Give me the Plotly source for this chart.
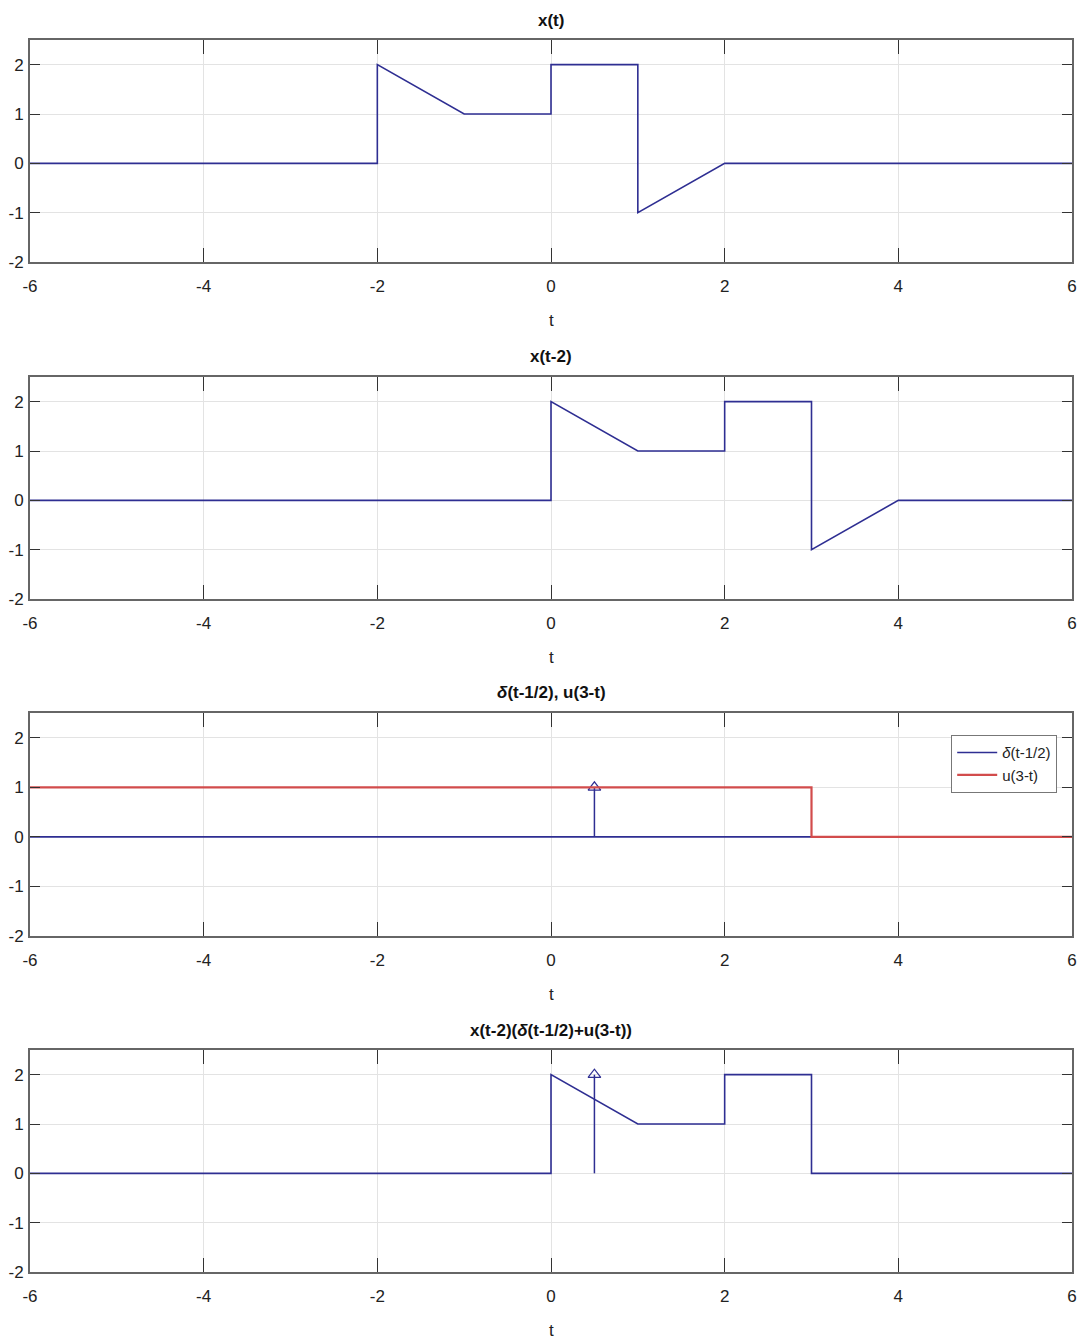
import plotly.graph_objects as go

# ---- data ----
t_x = [-6, -2, -2, -1, 0, 0, 1, 1, 2, 6]
x_vals = [0, 0, 2, 1, 1, 2, 2, -1, 0, 0]

t_xs = [-6, 0, 0, 1, 2, 2, 3, 3, 4, 6]
xs_vals = [0, 0, 2, 1, 1, 2, 2, -1, 0, 0]

t_delta_base = [-6, 6]
delta_base = [0, 0]
delta_pos = 0.5
delta_amp = 1

t_u = [-6, 3, 3, 6]
u_vals = [1, 1, 0, 0]

t_prod = [-6, 0, 0, 1, 2, 2, 3, 3, 6]
prod_vals = [0, 0, 2, 1, 1, 2, 2, 0, 0]
prod_delta_amp = 2

titles = ["x(t)", "x(t-2)", "<i>δ</i>(t-1/2), u(3-t)", "x(t-2)(<i>δ</i>(t-1/2)+u(3-t))"]
x_ticks = [-6, -4, -2, 0, 2, 4, 6]
x_ticktext = ["-6", "-4", "-2", "0", "2", "4", "6"]
y_ticks = [-2, -1, 0, 1, 2]
y_ticktext = ["-2", "-1", "0", "1", "2"]

BLUE = "#2e2e92"
RED = "#d24c4c"
FONT = "Liberation Sans"

W, H = 1084, 1342
ML, MR, MT, MB = 30, 12, 40, 70
tops = [40, 377, 713, 1050]
bots = [262, 599, 936, 1272]
ph = H - MT - MB

def ydom(top, bot):
    return [(H - MB - bot) / ph, (H - MB - top) / ph]

fig = go.Figure()

def add_line(i, xs, ys, color, width, name=None, show=False):
    ax = "" if i == 0 else str(i + 1)
    fig.add_trace(go.Scatter(x=xs, y=ys, mode="lines", line=dict(color=color, width=width),
                             xaxis="x" + ax, yaxis="y" + ax, name=name, showlegend=show,
                             hoverinfo="skip"))

def add_arrow(i, pos, amp):
    ax = "" if i == 0 else str(i + 1)
    fig.add_trace(go.Scatter(x=[pos, pos], y=[0, amp], mode="lines",
                             line=dict(color=BLUE, width=1.5), xaxis="x" + ax, yaxis="y" + ax,
                             showlegend=False, hoverinfo="skip"))
    fig.add_trace(go.Scatter(x=[pos], y=[amp], mode="markers",
                             marker=dict(symbol="triangle-up-open", size=11, color=BLUE,
                                         line=dict(width=1.2, color=BLUE)),
                             xaxis="x" + ax, yaxis="y" + ax, showlegend=False, hoverinfo="skip"))

add_line(0, t_x, x_vals, BLUE, 1.6)
add_line(1, t_xs, xs_vals, BLUE, 1.6)
add_line(2, t_delta_base, delta_base, BLUE, 1.6, name="<i>δ</i>(t-1/2)", show=True)
add_arrow(2, delta_pos, delta_amp)
add_line(2, t_u, u_vals, RED, 2.2, name="u(3-t)", show=True)
add_line(3, t_prod, prod_vals, BLUE, 1.6)
add_arrow(3, delta_pos, prod_delta_amp)

layout = dict(
    width=W, height=H, margin=dict(l=ML, r=MR, t=MT, b=MB),
    paper_bgcolor="white", plot_bgcolor="white",
    font=dict(family=FONT, size=16, color="#222"),
    legend=dict(x=(1057 - ML) / (W - ML - MR), y=(H - MB - 735) / ph, xanchor="right", yanchor="top",
                bordercolor="#777", borderwidth=1.2, bgcolor="white",
                font=dict(family=FONT, size=15, color="#222"), tracegroupgap=0,
                itemwidth=40),
)
annotations = []
for i in range(4):
    ax = "" if i == 0 else str(i + 1)
    d = ydom(tops[i], bots[i])
    layout["xaxis" + ax] = dict(domain=[0, 1], range=[-6, 6], tickvals=x_ticks, ticktext=x_ticktext,
                                anchor="y" + ax, automargin=False, ticklabelstandoff=8,
                                showgrid=True, gridcolor="#e3e3e3", gridwidth=1,
                                showline=True, linecolor="#666", linewidth=2, mirror="ticks",
                                ticks="inside", ticklen=14, tickwidth=1.3, tickcolor="#333",
                                zeroline=False, tickfont=dict(size=17), fixedrange=True)
    layout["yaxis" + ax] = dict(domain=d, range=[-2, 2.5], tickvals=y_ticks, ticktext=y_ticktext,
                                anchor="x" + ax, automargin=False, ticklabelstandoff=1,
                                showgrid=True, gridcolor="#e3e3e3", gridwidth=1,
                                showline=True, linecolor="#666", linewidth=2, mirror="ticks",
                                ticks="inside", ticklen=10, tickwidth=1.3, tickcolor="#333",
                                zeroline=False, tickfont=dict(size=17), fixedrange=True)
    annotations.append(dict(text="<b>" + titles[i] + "</b>", x=0.5, xref="paper",
                            y=(H - MB - (tops[i] - 20)) / ph, yref="paper", showarrow=False,
                            yanchor="middle", xanchor="center",
                            font=dict(size=17, family=FONT, color="#111")))
    annotations.append(dict(text="t", x=0.5, xref="paper",
                            y=(H - MB - (bots[i] + 58)) / ph, yref="paper", showarrow=False,
                            yanchor="middle", xanchor="center",
                            font=dict(size=17, family=FONT, color="#222")))
layout["annotations"] = annotations
fig.update_layout(**layout)
fig.write_html("out.html", config={"displayModeBar": False},
               post_script="document.body.style.margin='0';document.body.style.overflow='hidden';")
